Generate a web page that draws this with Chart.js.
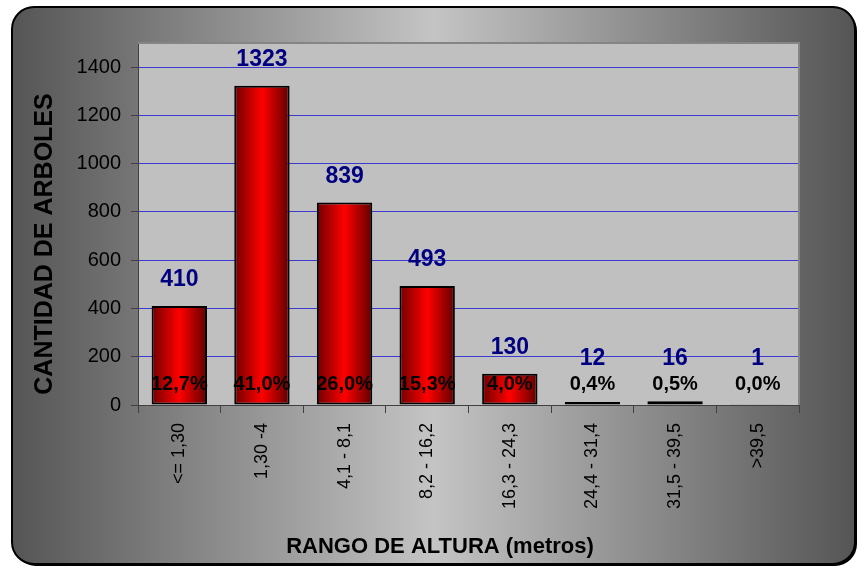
<!DOCTYPE html>
<html>
<head>
<meta charset="utf-8">
<script src="https://cdn.jsdelivr.net/npm/chart.js@4.4.1/dist/chart.umd.min.js"></script>
<style>
  html, body { margin: 0; padding: 0; background: #ffffff; }
  canvas { display: block; }
</style>
</head>
<body>
<canvas id="chart" width="859" height="573"></canvas>
<script>
// datos del grafico
const categorias = ['<= 1,30', '1,30 -4', '4,1 - 8,1', '8,2 - 16,2', '16,3 - 24,3', '24,4 - 31,4', '31,5 - 39,5', '>39,5'];
const arboles = [410, 1323, 839, 493, 130, 12, 16, 1];
const porcentajes = [12.7, 41.0, 26.0, 15.3, 4.0, 0.4, 0.5, 0.0];
const yTicks = [0, 200, 400, 600, 800, 1000, 1200, 1400];

const FONT = "'Liberation Sans', Arial, sans-serif";
const TITULO_Y = 'CANTIDAD DE ARBOLES';
const TITULO_X = 'RANGO DE ALTURA (metros)';

// fondo con esquinas redondeadas y area de trazado
const fondoPlugin = {
    id: 'fondo',
    beforeDraw(chart) {
        const ctx = chart.ctx;
        const a = chart.chartArea;
        const x0 = 12, y0 = 7, x1 = 855, y1 = 564, r = 22;

        ctx.save();
        // sombra
        ctx.fillStyle = '#000000';
        ctx.beginPath();
        ctx.roundRect(x0 + 2, y0 + 2, x1 - x0, y1 - y0, r);
        ctx.fill();

        const g = ctx.createLinearGradient(x0, 0, x1, 0);
        g.addColorStop(0, '#555555');
        g.addColorStop(0.5, '#c4c4c4');
        g.addColorStop(1, '#555555');
        ctx.fillStyle = g;
        ctx.strokeStyle = '#000000';
        ctx.lineWidth = 2;
        ctx.beginPath();
        ctx.roundRect(x0, y0, x1 - x0, y1 - y0, r);
        ctx.fill();
        ctx.stroke();

        ctx.fillStyle = '#c0c0c0';
        ctx.fillRect(a.left, a.top, a.right - a.left, a.bottom - a.top);
        ctx.restore();
    },
    beforeDatasetsDraw(chart) {
        const ctx = chart.ctx;
        const a = chart.chartArea;
        ctx.save();
        ctx.strokeStyle = '#858585';
        ctx.lineWidth = 2;
        ctx.beginPath();
        ctx.moveTo(a.left, a.top);
        ctx.lineTo(a.right, a.top);
        ctx.lineTo(a.right, a.bottom);
        ctx.stroke();
        ctx.restore();
    },
    afterDraw(chart) {
        // titulos de los ejes
        const ctx = chart.ctx;
        ctx.save();
        ctx.fillStyle = '#000000';
        ctx.textAlign = 'center';
        ctx.textBaseline = 'middle';
        ctx.font = 'bold 22px ' + FONT;
        ctx.fillText(TITULO_X, 440, 547);
        ctx.translate(45, 244);
        ctx.rotate(-Math.PI / 2);
        ctx.font = 'bold 25px ' + FONT;
        ctx.fillText(TITULO_Y, 0, 0);
        ctx.restore();
    }
};

// etiquetas de valor y porcentaje
const etiquetasPlugin = {
    id: 'etiquetas',
    afterDatasetsDraw(chart) {
        const ctx = chart.ctx;
        const meta = chart.getDatasetMeta(0);
        const yScale = chart.scales.y;
        ctx.save();
        ctx.textAlign = 'center';
        ctx.textBaseline = 'middle';
        meta.data.forEach((bar, i) => {
            ctx.fillStyle = '#000080';
            ctx.font = 'bold 23px ' + FONT;
            const yv = Math.min(bar.y - 26, yScale.getPixelForValue(190));
            ctx.fillText(String(arboles[i]), bar.x, yv);

            ctx.fillStyle = '#000000';
            ctx.font = 'bold 20px ' + FONT;
            const txt = porcentajes[i].toFixed(1).replace('.', ',') + '%';
            ctx.fillText(txt, bar.x, yScale.getPixelForValue(85));
        });
        ctx.restore();
    }
};

function rellenoBarra(context) {
    const chart = context.chart;
    const xs = chart.scales.x;
    if (!xs || !chart.chartArea) return '#ff0000';
    const cx = xs.getPixelForValue(context.dataIndex);
    const half = (xs.width / categorias.length) * 0.67 / 2;
    const g = chart.ctx.createLinearGradient(cx - half, 0, cx + half, 0);
    g.addColorStop(0, '#700000');
    g.addColorStop(0.5, '#ff0000');
    g.addColorStop(1, '#600000');
    return g;
}

new Chart(document.getElementById('chart'), {
    type: 'bar',
    data: {
        labels: categorias,
        datasets: [{
            label: 'Cantidad de arboles',
            data: arboles,
            backgroundColor: rellenoBarra,
            borderColor: '#000000',
            borderWidth: 2,
            borderSkipped: false,
            barPercentage: 0.67,
            categoryPercentage: 1.0
        }]
    },
    options: {
        responsive: false,
        animation: false,
        layout: { padding: { left: 28, top: 43, right: 60, bottom: 10 } },
        plugins: {
            legend: { display: false },
            tooltip: { enabled: false }
        },
        scales: {
            x: {
                grid: {
                    offset: true,
                    drawOnChartArea: false,
                    tickLength: 8,
                    tickColor: '#404040'
                },
                border: { color: '#404040', width: 1 },
                ticks: {
                    minRotation: 90,
                    maxRotation: 90,
                    padding: 10,
                    color: '#000000',
                    font: { family: FONT, size: 18 }
                },
                afterFit: (scale) => { scale.height = 158; }
            },
            y: {
                min: 0,
                max: 1500,
                ticks: {
                    stepSize: 200,
                    padding: 10,
                    color: '#000000',
                    font: { family: FONT, size: 20 },
                    callback: (v) => String(v)
                },
                afterBuildTicks: (scale) => {
                    scale.ticks = yTicks.map(v => ({ value: v }));
                },
                grid: {
                    color: '#3b3bd0',
                    lineWidth: 1,
                    tickLength: 7,
                    tickColor: '#404040'
                },
                border: { color: '#404040', width: 1 },
                afterFit: (scale) => { scale.width = 110; }
            }
        }
    },
    plugins: [fondoPlugin, etiquetasPlugin]
});
</script>
</body>
</html>
